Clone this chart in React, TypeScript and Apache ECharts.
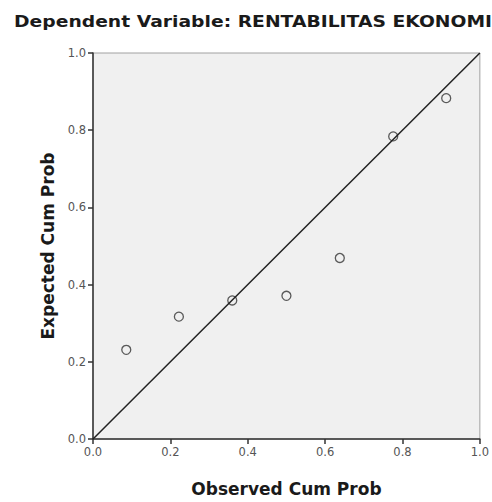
import React, { useEffect, useRef } from "react";
import * as echarts from "echarts";

const titleText = "Dependent Variable: RENTABILITAS EKONOMI";
const xName = "Observed Cum Prob";
const yName = "Expected Cum Prob";
const observed = [0.086, 0.222, 0.36, 0.5, 0.638, 0.776, 0.913];
const expected = [0.231, 0.317, 0.359, 0.371, 0.469, 0.784, 0.883];
const diagonal = [
  [0, 0],
  [1, 1],
];

export default function App() {
  const ref = useRef<HTMLDivElement>(null);
  useEffect(() => {
    if (!ref.current) return;
    const chart = echarts.init(ref.current, undefined, { renderer: "svg" });
    const font = "'DejaVu Sans', Verdana, sans-serif";
    const labelStyle = {
      fontFamily: font,
      fontSize: 11.5,
      color: "#555",
      formatter: (v: number) => v.toFixed(1),
    };
    chart.setOption({
      animation: false,
      backgroundColor: "#ffffff",
      graphic: [
        {
          type: "text",
          x: 14,
          y: 14,
          scaleX: 1.25,
          style: {
            text: titleText,
            font: "bold 15px 'DejaVu Sans', Verdana, sans-serif",
            fill: "#1a1a1a",
            textVerticalAlign: "top",
          },
        },
      ],
      grid: {
        left: 93,
        right: 9,
        top: 53,
        bottom: 61,
        show: true,
        backgroundColor: "#f0f0f0",
        borderColor: "#a0a0a0",
        borderWidth: 1,
      },
      xAxis: {
        type: "value",
        min: 0,
        max: 1,
        interval: 0.2,
        name: xName,
        nameLocation: "middle",
        nameGap: 41,
        nameTextStyle: { fontFamily: font, fontSize: 17, fontWeight: "bold", color: "#1a1a1a" },
        axisLine: { show: true, lineStyle: { color: "#333", width: 1.5 } },
        axisTick: { show: true, length: 5, lineStyle: { color: "#333", width: 1.5 } },
        axisLabel: { ...labelStyle, margin: 7 },
        splitLine: { show: false },
      },
      yAxis: {
        type: "value",
        min: 0,
        max: 1,
        interval: 0.2,
        name: yName,
        nameLocation: "middle",
        nameGap: 36,
        nameTextStyle: { fontFamily: font, fontSize: 17, fontWeight: "bold", color: "#1a1a1a" },
        axisLine: { show: true, lineStyle: { color: "#333", width: 1.5 } },
        axisTick: { show: true, length: 5, lineStyle: { color: "#333", width: 1.5 } },
        axisLabel: { ...labelStyle, margin: 7 },
        splitLine: { show: false },
      },
      series: [
        {
          type: "line",
          data: diagonal,
          symbol: "none",
          lineStyle: { color: "#222", width: 1.5 },
          silent: true,
        },
        {
          type: "scatter",
          data: observed.map((x, i) => [x, expected[i]]),
          symbol: "circle",
          symbolSize: 9,
          itemStyle: { color: "rgba(0,0,0,0)", borderColor: "#333", borderWidth: 1.3 },
        },
      ],
    });
    return () => chart.dispose();
  }, []);
  return (
    <div
      ref={ref}
      style={{ position: "absolute", left: 0, top: 0, width: 492, height: 502 }}
    />
  );
}
